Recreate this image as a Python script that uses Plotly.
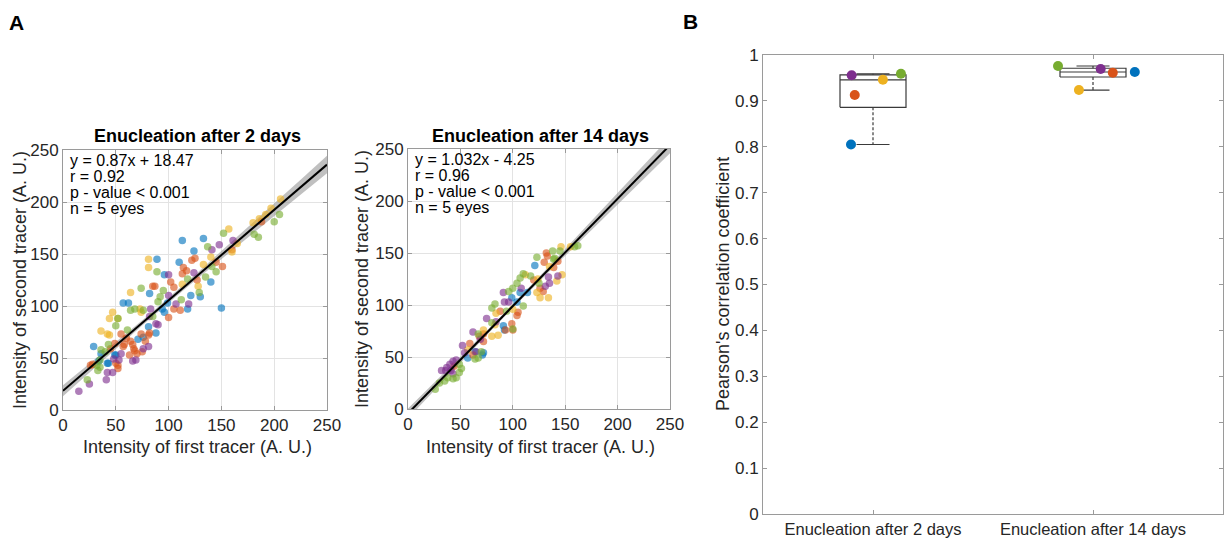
import numpy as np
import plotly.graph_objects as go

W, H = 1225, 543
COLORS = {"blue": "#0072BD", "orange": "#D95319", "yellow": "#EDB120",
          "purple": "#7E2F8E", "green": "#77AC30"}
ORDER = ["blue", "orange", "yellow", "purple", "green"]

# ---------------- Panel A, left: enucleation after 2 days ----------------
d2_blue_x = [29, 34, 36, 42, 43, 49, 50, 57, 62, 71, 81, 82, 76, 88, 89, 94, 96, 96, 99, 110, 113, 118, 121, 124, 130, 133, 140, 150]
d2_blue_y = [61, 47, 54, 45, 45, 53, 53, 103, 103, 68, 80, 112, 70, 74, 145, 97, 94, 130, 103, 142, 163, 97, 110, 153, 109, 165, 123, 98]
d2_orange_x = [26, 28, 45, 49, 50, 52, 52, 55, 57, 58, 60, 63, 64, 66, 67, 68, 70, 74, 75, 78, 81, 82, 85, 87, 100, 102, 105, 105, 111, 113, 114, 117, 122, 125, 127, 145, 151, 160, 188]
d2_orange_y = [43, 44, 59, 64, 45, 43, 40, 73, 61, 63, 69, 53, 66, 63, 59, 57, 54, 73, 56, 66, 72, 74, 119, 119, 89, 123, 118, 97, 96, 131, 137, 134, 144, 146, 125, 142, 138, 154, 181]
d2_yellow_x = [36, 42, 44, 44, 47, 52, 64, 73, 74, 81, 81, 113, 128, 133, 140, 157, 160, 180, 186, 197, 206, 192, 165]
d2_yellow_y = [76, 73, 72, 88, 94, 88, 113, 97, 94, 137, 145, 121, 119, 140, 147, 174, 152, 180, 184, 194, 203, 188, 160]
d2_purple_x = [15, 25, 41, 42, 47, 48, 53, 55, 66, 69, 76, 81, 82, 83, 88, 90, 100, 100, 107, 119, 124, 141, 148, 161]
d2_purple_y = [18, 25, 29, 36, 36, 49, 48, 54, 47, 48, 59, 61, 90, 97, 83, 82, 110, 130, 102, 102, 132, 154, 159, 163]
d2_green_x = [23, 32, 33, 35, 35, 36, 40, 43, 50, 52, 61, 64, 68, 74, 76, 85, 89, 90, 92, 95, 112, 118, 129, 135, 137, 141, 145, 152, 181, 185, 200, 205]
d2_green_y = [29, 43, 38, 41, 48, 58, 56, 63, 81, 88, 77, 96, 97, 117, 96, 90, 133, 104, 109, 115, 106, 126, 113, 128, 157, 138, 133, 170, 169, 166, 181, 188]
d2_slope, d2_icpt = 0.87, 18.47
d2_stats = ["y = 0.87x + 18.47", "r = 0.92", "p - value < 0.001", "n = 5 eyes"]

# ---------------- Panel A, right: enucleation after 14 days ----------------
d14_blue_x = [57, 64, 71, 72, 91, 92, 99, 104, 107, 114, 121]
d14_blue_y = [49, 55, 52, 54, 80, 76, 107, 103, 112, 112, 138]
d14_orange_x = [44, 59, 62, 68, 72, 72, 88, 93, 99, 100, 104, 105, 120, 126, 129, 130, 132, 133, 139, 143]
d14_orange_y = [41, 63, 52, 70, 72, 65, 94, 76, 82, 76, 90, 93, 124, 116, 113, 141, 150, 147, 136, 142]
d14_yellow_x = [57, 72, 80, 83, 84, 86, 100, 112, 123, 124, 126, 134, 135, 142, 147, 146, 155]
d14_yellow_y = [57, 76, 70, 81, 92, 71, 96, 129, 112, 125, 107, 107, 137, 123, 129, 156, 156]
d14_purple_x = [32, 36, 37, 40, 41, 43, 43, 46, 52, 54, 62, 65, 69, 75, 84, 91, 92, 96, 108, 131, 134, 135, 143]
d14_purple_y = [37, 37, 40, 43, 37, 46, 34, 47, 61, 54, 74, 55, 67, 87, 84, 112, 103, 103, 116, 118, 127, 121, 128]
d14_green_x = [26, 30, 35, 38, 43, 46, 49, 49, 51, 64, 67, 67, 70, 80, 80, 83, 94, 96, 100, 100, 104, 107, 110, 110, 117, 123, 125, 138, 139, 140, 145, 159, 162]
d14_green_y = [19, 25, 27, 30, 29, 30, 35, 43, 39, 48, 49, 72, 55, 97, 83, 101, 94, 113, 116, 77, 121, 126, 99, 130, 128, 146, 121, 152, 144, 145, 152, 156, 157]
d14_slope, d14_icpt = 1.032, -4.25
d14_stats = ["y = 1.032x - 4.25", "r = 0.96", "p - value < 0.001", "n = 5 eyes"]

axis_ticks_A = [0, 50, 100, 150, 200, 250]

# ---------------- Panel B: Pearson correlation per eye ----------------
groups = ["Enucleation after 2 days", "Enucleation after 14 days"]
r_2days = {"blue": 0.805, "orange": 0.913, "yellow": 0.946, "purple": 0.956, "green": 0.959}
r_14days = {"blue": 0.963, "orange": 0.9615, "yellow": 0.9236, "purple": 0.9695, "green": 0.976}
jitter_2days = {"blue": -0.10, "orange": -0.083, "yellow": 0.045, "purple": -0.097, "green": 0.127}
jitter_14days = {"blue": 0.19, "orange": 0.09, "yellow": -0.064, "purple": 0.035, "green": -0.159}
ticks_B = [round(0.1 * i, 1) for i in range(11)]

FONT = "Liberation Sans, Arial, Helvetica, sans-serif"
TXT = "#262626"
AX = "#9a9a9a"
GRID = "#e3e3e3"

fig = go.Figure()


def px2x(p):
    return p / W


def px2y(p):
    return 1 - p / H


def add_scatter_panel(data, slope, icpt, xa, ya):
    allx = np.concatenate([np.array(d[0], float) for d in data.values()])
    ally = np.concatenate([np.array(d[1], float) for d in data.values()])
    grid = np.linspace(0, 250, 126)
    n = len(allx)
    resid = ally - (slope * allx + icpt)
    s = np.sqrt(np.sum(resid ** 2) / (n - 2))
    xm = allx.mean()
    sxx = np.sum((allx - xm) ** 2)
    half = 1.96 * s * np.sqrt(1.0 / n + (grid - xm) ** 2 / sxx) * 0.75
    yfit = slope * grid + icpt
    fig.add_trace(go.Scatter(x=grid, y=yfit - half, mode="lines", line=dict(width=0, color="rgba(0,0,0,0)"),
                             xaxis=xa, yaxis=ya, showlegend=False, hoverinfo="skip"))
    fig.add_trace(go.Scatter(x=grid, y=yfit + half, mode="lines", line=dict(width=0, color="rgba(0,0,0,0)"),
                             fill="tonexty", fillcolor="rgba(150,150,150,0.6)",
                             xaxis=xa, yaxis=ya, showlegend=False, hoverinfo="skip"))
    for c in ORDER:
        xs, ys = data[c]
        fig.add_trace(go.Scatter(x=xs, y=ys, mode="markers",
                                 marker=dict(size=7.5, color=COLORS[c], opacity=0.62, line=dict(width=0)),
                                 xaxis=xa, yaxis=ya, showlegend=False))
    fig.add_trace(go.Scatter(x=grid, y=yfit, mode="lines", line=dict(color="black", width=2),
                             xaxis=xa, yaxis=ya, showlegend=False))


add_scatter_panel({"blue": (d2_blue_x, d2_blue_y), "orange": (d2_orange_x, d2_orange_y),
                   "yellow": (d2_yellow_x, d2_yellow_y), "purple": (d2_purple_x, d2_purple_y),
                   "green": (d2_green_x, d2_green_y)}, d2_slope, d2_icpt, "x", "y")
add_scatter_panel({"blue": (d14_blue_x, d14_blue_y), "orange": (d14_orange_x, d14_orange_y),
                   "yellow": (d14_yellow_x, d14_yellow_y), "purple": (d14_purple_x, d14_purple_y),
                   "green": (d14_green_x, d14_green_y)}, d14_slope, d14_icpt, "x2", "y2")

# ---------------- Panel B boxes ----------------
for gi, (vals, jit) in enumerate([(r_2days, jitter_2days), (r_14days, jitter_14days)]):
    pos = gi + 1
    v = np.array([vals[c] for c in ORDER])
    q1, med, q3 = np.percentile(v, [25, 50, 75], method="hazen")
    iqr = q3 - q1
    lo = v[v >= q1 - 1.5 * iqr].min()
    hi = v[v <= q3 + 1.5 * iqr].max()
    bw, cw = 0.15, 0.075
    line = dict(color="#3a3a3a", width=1.2)
    fig.add_trace(go.Scatter(x=[pos - bw, pos + bw, pos + bw, pos - bw, pos - bw], y=[q1, q1, q3, q3, q1],
                             mode="lines", line=line, xaxis="x3", yaxis="y3", showlegend=False, hoverinfo="skip"))
    fig.add_trace(go.Scatter(x=[pos - bw, pos + bw], y=[med, med], mode="lines", line=line,
                             xaxis="x3", yaxis="y3", showlegend=False, hoverinfo="skip"))
    for a, b in [(q1, lo), (q3, hi)]:
        fig.add_trace(go.Scatter(x=[pos, pos], y=[a, b], mode="lines",
                                 line=dict(color="#3a3a3a", width=1.2, dash="3px,2px"),
                                 xaxis="x3", yaxis="y3", showlegend=False, hoverinfo="skip"))
        fig.add_trace(go.Scatter(x=[pos - cw, pos + cw], y=[b, b], mode="lines", line=line,
                                 xaxis="x3", yaxis="y3", showlegend=False, hoverinfo="skip"))
    for c in ORDER:
        fig.add_trace(go.Scatter(x=[pos + jit[c]], y=[vals[c]], mode="markers",
                                 marker=dict(size=10, color=COLORS[c], line=dict(width=0)),
                                 xaxis="x3", yaxis="y3", showlegend=False))

# ---------------- Axes ----------------
common = dict(showline=True, linecolor=AX, linewidth=1, mirror="ticks", ticks="inside", ticklen=4,
              tickcolor=AX, zeroline=False, automargin=False,
              tickfont=dict(family=FONT, size=17, color=TXT))
fig.update_layout(
    width=W, height=H, margin=dict(l=0, r=0, t=0, b=0),
    paper_bgcolor="white", plot_bgcolor="white", showlegend=False,
    xaxis=dict(domain=[px2x(63), px2x(327)], range=[0, 250], tickvals=axis_ticks_A, showgrid=True,
               gridcolor=GRID, anchor="y", **common),
    yaxis=dict(domain=[px2y(410), px2y(150)], range=[0, 250], tickvals=axis_ticks_A, showgrid=True,
               gridcolor=GRID, anchor="x", **common),
    xaxis2=dict(domain=[px2x(408), px2x(670)], range=[0, 250], tickvals=axis_ticks_A, showgrid=True,
                gridcolor=GRID, anchor="y2", **common),
    yaxis2=dict(domain=[px2y(409), px2y(149)], range=[0, 250], tickvals=axis_ticks_A, showgrid=True,
                gridcolor=GRID, anchor="x2", **common),
    xaxis3=dict(domain=[px2x(763), px2x(1223)], range=[0.5, 0.5 + 460 / 220], tickvals=[1, 2], ticktext=groups,
                showgrid=False, anchor="y3", **common),
    yaxis3=dict(domain=[px2y(514), px2y(55)], range=[0, 1], tickvals=ticks_B,
                ticktext=[("%g" % t) for t in ticks_B], showgrid=False, anchor="x3", **common),
)
fig.update_xaxes(selector=dict(anchor="y3"), tickfont=dict(family=FONT, size=16.5, color=TXT))

ann = []


def text(x, y, s, size=15, bold=False, angle=0, xanchor="center"):
    ann.append(dict(x=px2x(x), y=px2y(y), xref="paper", yref="paper", text=("<b>%s</b>" % s) if bold else s,
                    showarrow=False, textangle=angle, xanchor=xanchor, yanchor="middle",
                    font=dict(family=FONT, size=size, color="black" if bold else TXT)))


text(16, 22, "A", size=21, bold=True)
text(690, 21, "B", size=21, bold=True)
text(197, 136, "Enucleation after 2 days", size=18, bold=True)
text(540, 136, "Enucleation after 14 days", size=18, bold=True)
text(197, 447, "Intensity of first tracer (A. U.)", size=18)
text(540, 447, "Intensity of first tracer (A. U.)", size=18)
text(20, 280, "Intensity of second tracer (A. U.)", size=18, angle=-90)
text(362, 279, "Intensity of second tracer (A. U.)", size=18, angle=-90)
text(723, 284, "Pearson's correlation coefficient", size=18, angle=-90)

for lines, xa, ya, ys in [(d2_stats, "x", "y", [239.5, 224.4, 209.3, 194.2]),
                          (d14_stats, "x2", "y2", [239.5, 224.4, 209.3, 194.2])]:
    for s, yv in zip(lines, ys):
        ann.append(dict(x=5, y=yv, xref=xa, yref=ya, text=s, showarrow=False, xanchor="left",
                        yanchor="middle", font=dict(family=FONT, size=16, color="black")))

fig.update_layout(annotations=ann)
fig.write_html("out.html", config={"displayModeBar": False},
               post_script="document.body.style.margin='0';document.body.style.overflow='hidden';")
